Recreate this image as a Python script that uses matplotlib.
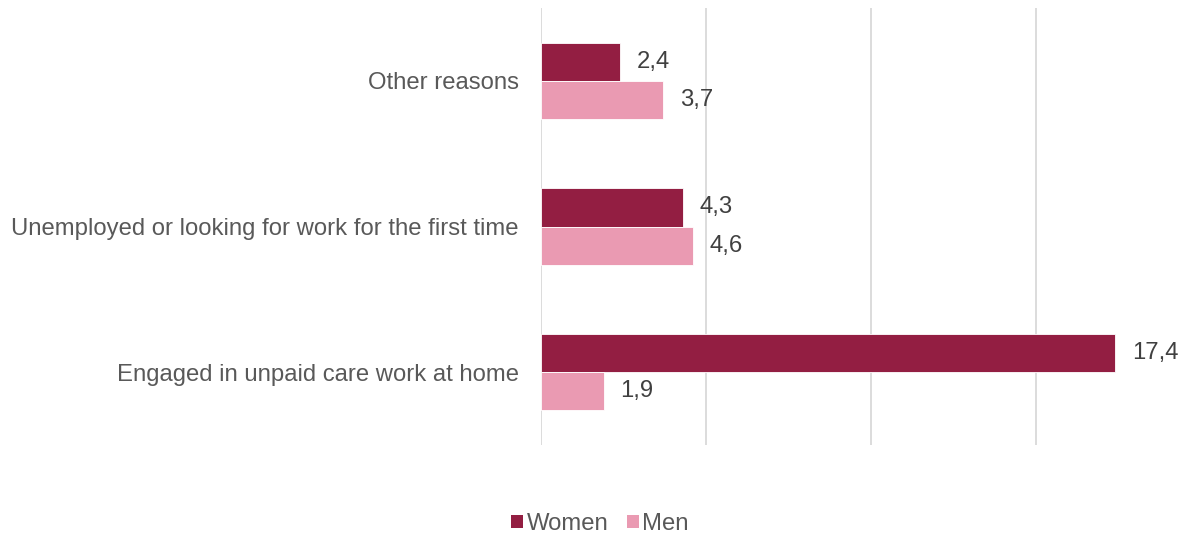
import matplotlib
matplotlib.use("Agg")
import matplotlib.pyplot as plt
from matplotlib.patches import Patch
import numpy as np

categories = ["Engaged in unpaid care work at home",
              "Unemployed or looking for work for the first time",
              "Other reasons"]
women = [17.4, 4.3, 2.4]
men = [1.9, 4.6, 3.7]
series_names = ["Women", "Men"]
colors = ["#931E42", "#EA9AB2"]

plt.rcParams['font.family'] = ['Liberation Sans', 'DejaVu Sans']

W, H = 1188, 535
fig = plt.figure(figsize=(W/100, H/100), dpi=100)
left, right, top, bottom = 541, 1187, 8, 445
ax = fig.add_axes([left/W, 1 - bottom/H, (right-left)/W, (bottom-top)/H])

y = np.arange(len(categories))
h = 0.262
fs = 17.2
ax.barh(y + h/2, women, height=h, color=colors[0], edgecolor="white", linewidth=0.6, zorder=3)
ax.barh(y - h/2, men, height=h, color=colors[1], edgecolor="white", linewidth=0.6, zorder=3)

for yi, v in zip(y + h/2, women):
    ax.annotate(f"{v:.1f}".replace(".", ","), (v, yi), xytext=(12, 0), textcoords="offset points",
                va="center", ha="left", fontsize=fs, color="#404040")
for yi, v in zip(y - h/2, men):
    ax.annotate(f"{v:.1f}".replace(".", ","), (v, yi), xytext=(12, 0), textcoords="offset points",
                va="center", ha="left", fontsize=fs, color="#404040")

ax.set_xlim(0, (right-left)/33.0)
ax.set_ylim(-0.5, len(categories) - 0.5)
ax.set_xticks([0, 5, 10, 15])
ax.xaxis.grid(True, color="#D9D9D9", linewidth=1.3, zorder=0)
ax.set_xticklabels([])
ax.tick_params(axis="x", length=0)
ax.set_yticks(y)
ax.set_yticklabels(categories, fontsize=fs, color="#595959")
ax.tick_params(axis="y", length=0, pad=16)
for s in ax.spines.values():
    s.set_visible(False)

handles = [Patch(facecolor=c, edgecolor="none") for c in colors]
fig.legend(handles, series_names, loc="center", bbox_to_anchor=(600/W, 1 - 524/H),
           ncol=2, frameon=False, fontsize=fs, labelcolor="#595959",
           handlelength=0.5, handleheight=0.5, handletextpad=0.15, columnspacing=0.75)

fig.savefig("out.png", dpi=100)
